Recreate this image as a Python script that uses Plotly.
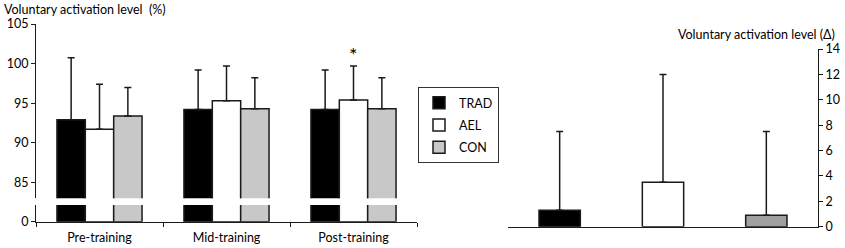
import plotly.graph_objects as go

# ---- data ----
phases = ["Pre-training", "Mid-training", "Post-training"]
groups = ["TRAD", "AEL", "CON"]
va_mean = {
    "TRAD": [92.9, 94.2, 94.2],
    "AEL": [91.7, 95.3, 95.4],
    "CON": [93.4, 94.3, 94.3],
}
va_upper = {
    "TRAD": [100.75, 99.2, 99.2],
    "AEL": [97.4, 99.7, 99.7],
    "CON": [97.0, 98.2, 98.2],
}
delta_mean = [1.3, 3.5, 0.9]
delta_upper = [7.5, 12.0, 7.5]
left_ticks = [85, 90, 95, 100, 105]
right_ticks = [0, 2, 4, 6, 8, 10, 12, 14]
star_phase = "Post-training"
star_y = 101.2

# ---- styles ----
W, H = 845, 248
FONT = "Lato"
TXT = "#000000"
FS = 12.5
fill_left = {"TRAD": "#000000", "AEL": "#ffffff", "CON": "#c8c8c8"}
fill_right = ["#000000", "#ffffff", "#a0a0a0"]
EDGE = "#1a1a1a"


def px_x(p):
    return p / W


def px_y(p):
    return 1 - p / H


fig = go.Figure()

for g in groups:
    err = [u - m for u, m in zip(va_upper[g], va_mean[g])]
    fig.add_trace(go.Bar(
        x=phases, y=va_mean[g], name=g, legendgroup=g,
        marker=dict(color=fill_left[g], line=dict(color=EDGE, width=1.5)),
        error_y=dict(type="data", symmetric=False, array=err,
                     arrayminus=[0] * len(err), color=EDGE,
                     thickness=1.5, width=3.5),
        xaxis="x", yaxis="y", showlegend=True,
    ))
for g in groups:
    fig.add_trace(go.Bar(
        x=phases, y=va_mean[g], name=g, legendgroup=g,
        marker=dict(color=fill_left[g], line=dict(color=EDGE, width=1.5)),
        xaxis="x", yaxis="y2", showlegend=False,
    ))

fig.add_trace(go.Bar(
    x=groups, y=delta_mean, width=0.4,
    marker=dict(color=fill_right, line=dict(color=EDGE, width=1.5)),
    error_y=dict(type="data", symmetric=False,
                 array=[u - m for u, m in zip(delta_upper, delta_mean)],
                 arrayminus=[0] * 3, color=EDGE, thickness=1.5, width=3.5),
    xaxis="x3", yaxis="y3", showlegend=False,
))

axis_common = dict(showline=True, linecolor=EDGE, linewidth=1.2,
                   showgrid=False, zeroline=False, ticks="outside",
                   tickcolor=EDGE, tickwidth=1.2, ticklen=4,
                   tickfont=dict(family=FONT, size=FS, color=TXT),
                   automargin=False)

fig.update_layout(
    width=W, height=H,
    margin=dict(l=0, r=0, t=0, b=0),
    paper_bgcolor="white", plot_bgcolor="white",
    barmode="group", bargap=0.33, bargroupgap=0,
    font=dict(family=FONT, size=FS, color=TXT),
    xaxis=dict(domain=[px_x(36), px_x(417)], anchor="y2",
               tickson="boundaries", ticklabelstandoff=4, **axis_common),
    yaxis=dict(domain=[px_y(198.3), px_y(24)], range=[83.0, 105],
               anchor="x", tickvals=left_ticks, **axis_common),
    yaxis2=dict(domain=[px_y(221.7), px_y(205)], range=[0, 2],
                anchor="x", tickvals=[0], **axis_common),
    xaxis3=dict(domain=[px_x(508), px_x(818)], anchor="y3",
                showline=True, linecolor=EDGE, linewidth=1.2,
                showgrid=False, zeroline=False, showticklabels=False,
                ticks=""),
    yaxis3=dict(domain=[px_y(226.7), px_y(49)], range=[0, 14],
                anchor="x3", side="right", tickvals=right_ticks,
                **axis_common),
    legend=dict(x=px_x(418), y=px_y(87), xanchor="left", yanchor="top",
                bordercolor="#333333", borderwidth=1, bgcolor="white",
                font=dict(family=FONT, size=FS, color=TXT),
                tracegroupgap=3, traceorder="grouped"),
    annotations=[
        dict(text="Voluntary activation level \u00a0(%)", x=px_x(2), y=px_y(10),
             xref="paper", yref="paper", xanchor="left", yanchor="middle",
             showarrow=False, font=dict(family=FONT, size=12.5, color=TXT)),
        dict(text="Voluntary activation level (\u0394)", x=px_x(837), y=px_y(34),
             xref="paper", yref="paper", xanchor="right", yanchor="middle",
             showarrow=False, font=dict(family=FONT, size=12.5, color=TXT)),
        dict(text="*", x=star_phase, y=star_y, xref="x", yref="y",
             xanchor="center", yanchor="middle", showarrow=False,
             font=dict(family=FONT, size=20, color=TXT)),
    ],
)

fig.write_html("out.html",
               config={"displayModeBar": False},
               post_script="document.body.style.margin='0';"
                           "document.body.style.overflow='hidden';")
